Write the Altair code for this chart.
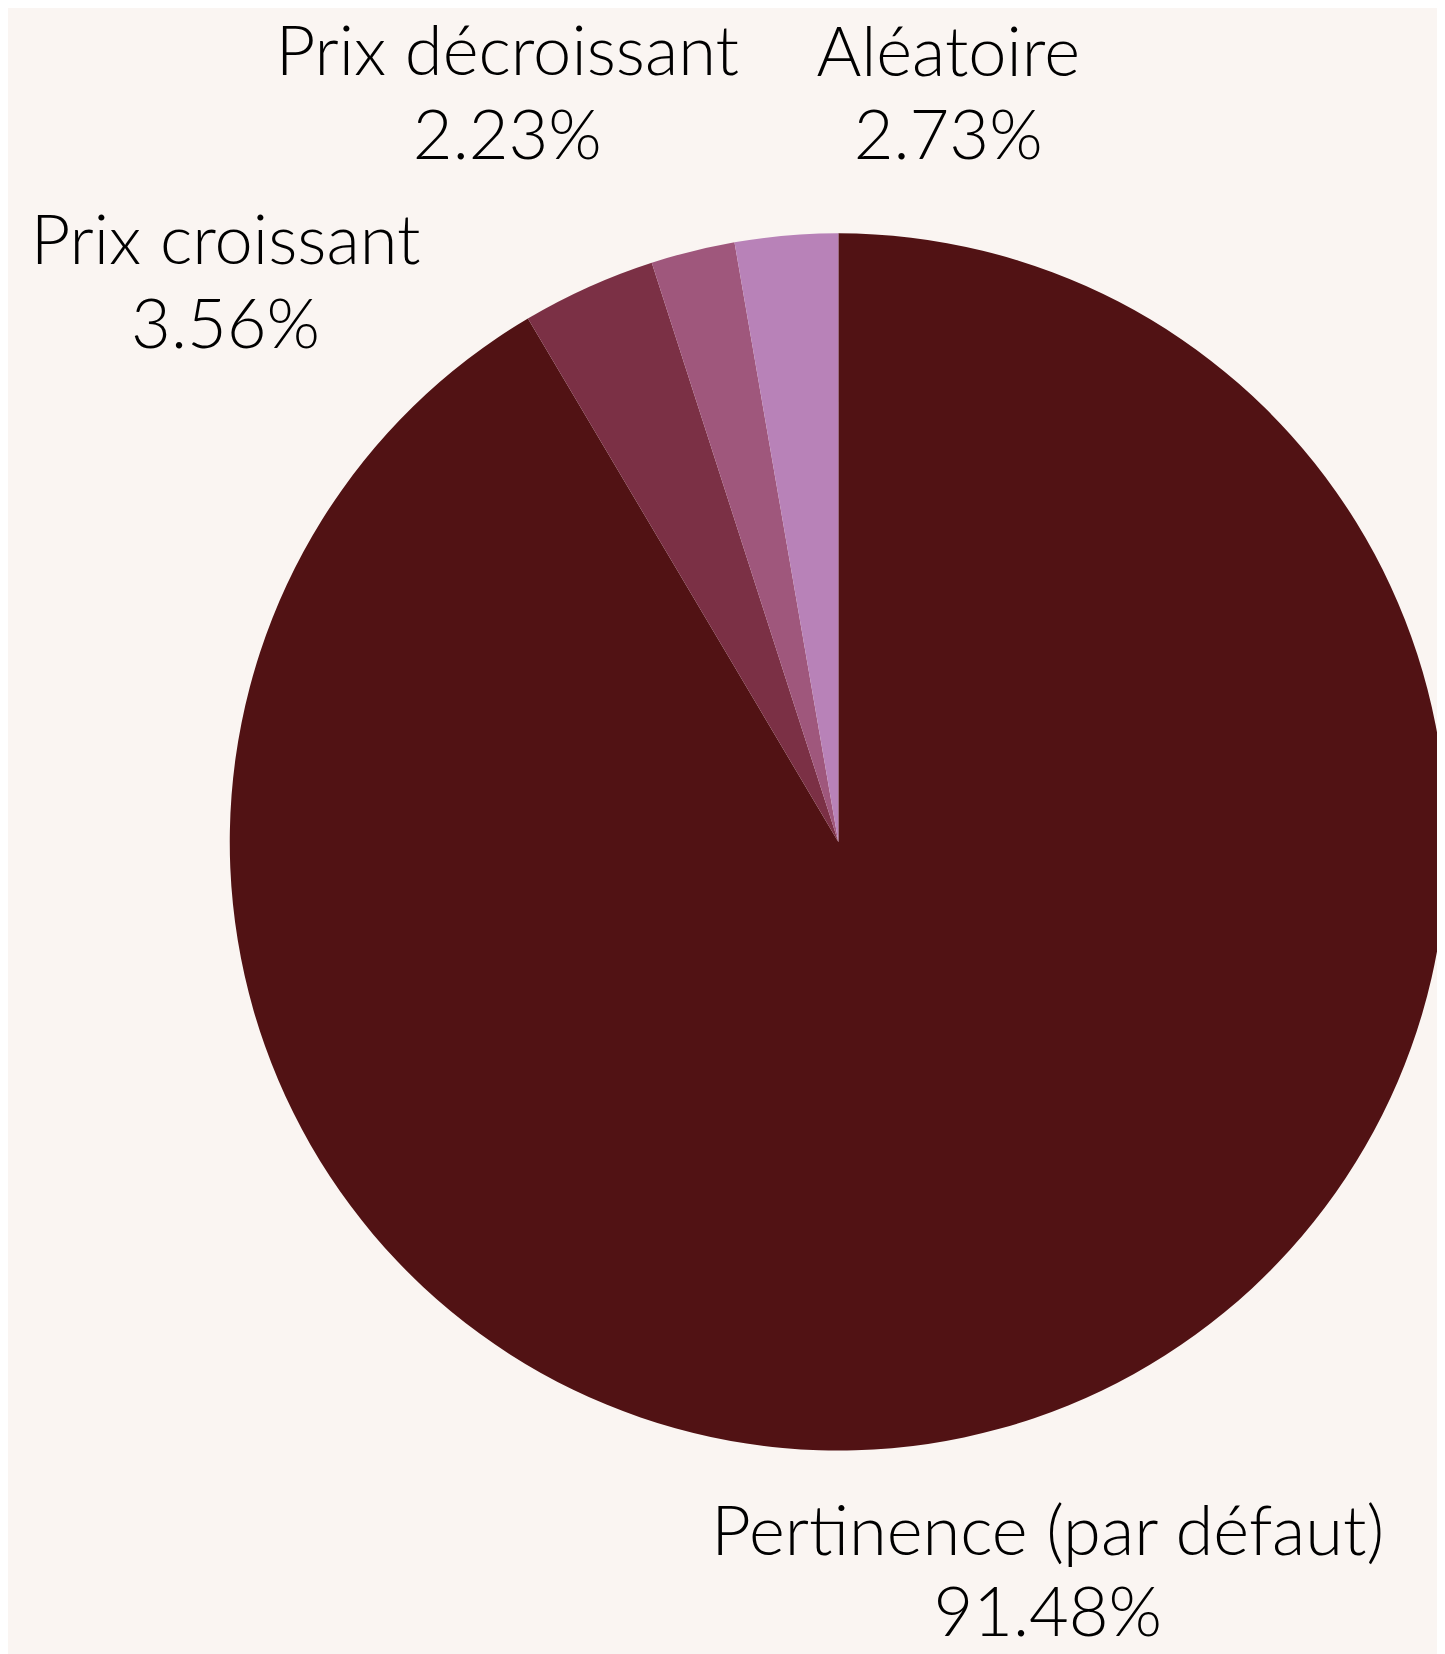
import altair as alt
import pandas as pd

categories = ["Pertinence (par défaut)", "Prix croissant", "Prix décroissant", "Aléatoire"]
shares = [91.48, 3.56, 2.23, 2.73]
slice_order = [0, 1, 2, 3]
colors = ["#511214", "#7B3045", "#9F577C", "#B882B8"]

df = pd.DataFrame({
    "cat": categories,
    "share": shares,
    "ord": slice_order,
    "label": [f"{c}\n{v:.2f}%" for c, v in zip(categories, shares)],
})

# layout (pixels, not data)
W, H = 1437, 1646
CX, CY, R = 835, 834, 612
LR = 660
offsets = {
    "Pertinence (par défaut)": (36, 60),
    "Prix croissant": (-345, 0),
    "Prix décroissant": (-175, -151),
    "Aléatoire": (167, -134),
}
line_heights = {
    "Pertinence (par défaut)": 81,
    "Prix croissant": 84,
    "Prix décroissant": 84,
    "Aléatoire": 84,
}

theta_scale = alt.Scale(domain=[0, 100])
color_scale = alt.Scale(domain=categories, range=colors)

pie = alt.Chart(df).mark_arc(radius=R).encode(
    theta=alt.Theta("share:Q", stack=True, scale=theta_scale),
    order=alt.Order("ord:Q"),
    color=alt.Color("cat:N", scale=color_scale, legend=None),
    x=alt.value(CX),
    y=alt.value(CY),
)

text_base = alt.Chart(df).transform_window(
    cum="sum(share)", sort=[alt.SortField("ord")]
).transform_calculate(
    mid="datum.cum - datum.share / 2"
)

layers = [pie]
for cat in categories:
    dx, dy = offsets[cat]
    layers.append(
        text_base.transform_filter(alt.datum.cat == cat).mark_text(
            radius=LR, dx=dx, dy=dy, font="Lato", fontSize=69, fontWeight=300,
            lineHeight=line_heights[cat], lineBreak="\n", align="center",
            baseline="middle", color="#000000",
        ).encode(
            theta=alt.Theta("mid:Q", stack=None, scale=theta_scale),
            text="label:N",
            x=alt.value(CX),
            y=alt.value(CY),
        )
    )

chart = alt.layer(*layers).properties(
    width=W, height=H, padding=0, autosize="none", background="#FAF5F2"
).configure_view(stroke=None)

chart.save("out.html", embed_options={"renderer": "svg", "actions": False})
